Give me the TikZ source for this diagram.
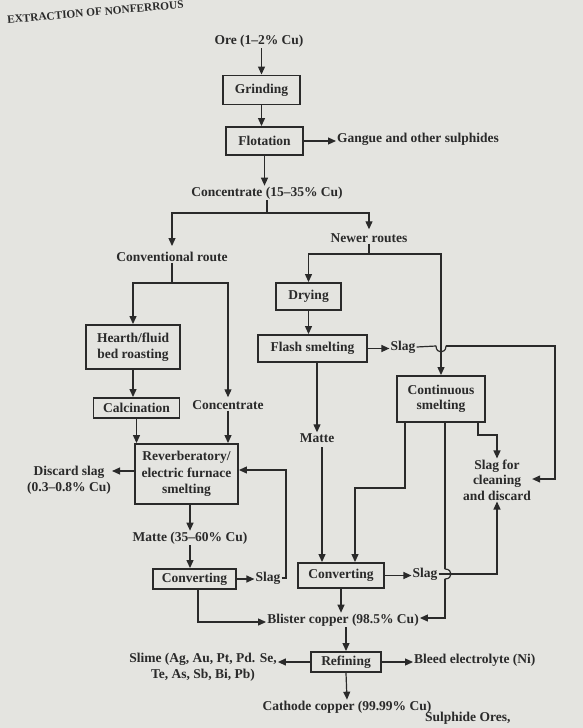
\documentclass[tikz,border=0pt]{standalone}
\usepackage{fontspec}
\setmainfont{Liberation Serif}
\usetikzlibrary{arrows.meta}
\definecolor{ink}{HTML}{2A2A2A}
\definecolor{paper}{HTML}{E4E4E0}
\newcommand\dfont{\fontsize{13.5}{15.5}\selectfont\bfseries}
\begin{document}
\begin{tikzpicture}[x=1pt,y=-1pt,
  box/.style={draw=ink, line width=1.9pt, inner sep=0pt, align=center, font=\dfont, text=ink},
  lbl/.style={inner sep=1pt, align=center, font=\dfont, text=ink},
  conn/.style={draw=ink, line width=1.2pt},
  arr/.style={conn, -{Triangle[length=8pt,width=7pt]}},
  gap/.style={shorten >=#1}]
\fill[paper] (0,0) rectangle (583,728);
\useasboundingbox (0,0) rectangle (583,728);
% header fragment
\node[lbl, anchor=west, rotate=5, font=\fontsize{11.3}{12}\selectfont\bfseries] (hdr) at (6,20) {EXTRACTION OF NONFERROUS};
% top chain
\node[lbl] (ore) at (259,41) {Ore (1–2\% Cu)};
\node[box, minimum width=77pt, minimum height=29pt] (grind) at (261.5,90) {Grinding};
\node[box, minimum width=77pt, minimum height=28pt] (flot) at (264.5,141) {Flotation};
\node[lbl, anchor=west] (gangue) at (336,139) {Gangue and other sulphides};
\node[lbl] (conc1) at (267,193) {Concentrate (15–35\% Cu)};
\draw[arr] (ore.south -| grind.north) -- (grind.north);
\draw[arr] (grind.south) -- (grind.south |- flot.north);
\draw[arr] (flot.east) -- (flot.east -| gangue.west);
\draw[arr] (flot.south) -- (flot.south |- conc1.north);
% split
\node[lbl] (conv) at (172,257) {Conventional route};
\node[lbl] (newer) at (369,238) {Newer routes};
\coordinate (s1) at (267,213);
\draw[conn] (conc1.south) -- (s1);
\draw[arr, gap=5pt] (s1) -| (conv.north);
\draw[arr, gap=3pt] (s1) -| (newer.north);
% conventional route
\node[box, minimum width=94pt, minimum height=44pt] (hearth) at (133,347) {Hearth/fluid\\bed roasting};
\node[box, minimum width=86pt, minimum height=20pt] (calc) at (136.5,408) {Calcination};
\node[lbl] (conc2) at (228,405) {Concentrate};
\coordinate (c1) at (172,283);
\draw[conn] (conv.south) -- (c1);
\draw[arr] (c1) -| (hearth.north);
\draw[arr, gap=2pt] (c1) -| (conc2.north);
\draw[arr] (hearth.south) -- (hearth.south |- calc.north);
\node[box, minimum width=103pt, minimum height=60pt, font=\fontsize{13.5}{16.5}\selectfont\bfseries] (reverb) at (186.5,474) {Reverberatory/\\electric furnace\\smelting};
\draw[arr] (calc.south) -- (calc.south |- reverb.north);
\draw[arr] (conc2.south) -- (conc2.south |- reverb.north);
\node[lbl] (discard) at (69,480) {Discard slag\\(0.3–0.8\% Cu)};
\draw[arr] ([yshift=3pt]reverb.west) -- ([yshift=3pt]reverb.west -| discard.east);
\node[lbl] (matte1) at (190,538) {Matte (35–60\% Cu)};
\draw[arr] (matte1.north |- reverb.south) -- (matte1.north);
\node[box, minimum width=83pt, minimum height=20pt] (conv1) at (194.5,579) {Converting};
\draw[arr] (matte1.south) -- (matte1.south |- conv1.north);
\node[lbl] (slag1) at (268,578) {Slag};
\draw[arr] (conv1.east) -- (conv1.east -| slag1.west);
\coordinate (r1) at (286,578);
\coordinate (r2) at (286,470);
\draw[arr] (slag1.east) -- (r1) -- (r2) -- (r2 -| reverb.east);
% blister
\node[lbl] (blister) at (343,620) {Blister copper (98.5\% Cu)};
\coordinate (b1) at (198,622);
\draw[arr] (conv1.south -| b1) -- (b1) -- (b1 -| blister.west);
% newer routes
\coordinate (n1) at (369,254);
\node[box, minimum width=65pt, minimum height=27pt] (dry) at (308.5,296.5) {Drying};
\node[box, minimum width=109pt, minimum height=27pt] (flash) at (312.5,348.5) {Flash smelting};
\node[box, minimum width=88pt, minimum height=46pt] (cont) at (441,399) {Continuous\\smelting};
\draw[conn] (newer.south) -- (n1);
\draw[arr] (n1) -| (dry.north);
\draw[arr] (n1) -| (cont.north);
\draw[arr] (dry.south) -- (dry.south |- flash.north);
\node[lbl] (slag2) at (403,347) {Slag};
\draw[arr] (flash.east) -- (flash.east -| slag2.west);
\node[lbl] (clean) at (497,480) {Slag for\\cleaning\\and discard};
\coordinate (h1) at (436,346);
\coordinate (h2) at (446,346);
\coordinate (e1) at (555,346);
\coordinate (e2) at (555,479);
\draw[conn] (slag2.east) -- (h1);
\draw[conn, line cap=round] (h1) .. controls (436,354) and (446,354) .. (h2);
\draw[arr] (h2) -- (e1) -- (e2) -- (e2 -| clean.east);
\coordinate (k1) at (478,435);
\draw[arr] (k1 |- cont.south) -- (k1) -| (clean.north);
\node[lbl] (matte2) at (317,438) {Matte};
\draw[arr] (matte2.north |- flash.south) -- (matte2.north);
\node[box, minimum width=86pt, minimum height=25pt] (conv2) at (341,575.5) {Converting};
\coordinate (m1) at (322,447);
\draw[arr] (m1) -- (m1 |- conv2.north);
\coordinate (k2) at (405,488);
\coordinate (k3) at (355,488);
\draw[arr] (k2 |- cont.south) -- (k2) -- (k3) -- (k3 |- conv2.north);
\node[lbl] (slag3) at (425,574) {Slag};
\draw[arr] (conv2.east) -- (conv2.east -| slag3.west);
\coordinate (v1) at (445,569);
\coordinate (v2) at (445,579);
\coordinate (v3) at (445,618);
\draw[conn] (v1 |- cont.south) -- (v1);
\draw[conn, line cap=round] (v1) .. controls (453,569) and (453,579) .. (v2);
\draw[arr] (v2) -- (v3) -- (v3 -| blister.east);
\coordinate (w1) at (497,574);
\draw[arr] (slag3.east) -- (w1) -- (clean.south);
\draw[arr] (conv2.south) -- (conv2.south |- blister.north);
% refining
\node[box, minimum width=70pt, minimum height=20pt] (refine) at (346,662) {Refining};
\draw[arr] (refine.north |- blister.south) -- (refine.north);
\node[lbl, anchor=west] (bleed) at (413,660) {Bleed electrolyte (Ni)};
\draw[arr] (refine.east) -- (refine.east -| bleed.west);
\node[lbl] (slime) at (203,667) {Slime (Ag, Au, Pt, Pd. Se,\\Te, As, Sb, Bi, Pb)};
\draw[arr] (refine.west) -- (refine.west -| slime.east);
\node[lbl] (cathode) at (347,707) {Cathode copper (99.99\% Cu)};
\draw[arr] (refine.south) -- (cathode.north);
% footer fragment
\node[lbl, anchor=west] (foot) at (424,718) {Sulphide Ores,};
\end{tikzpicture}
\end{document}
